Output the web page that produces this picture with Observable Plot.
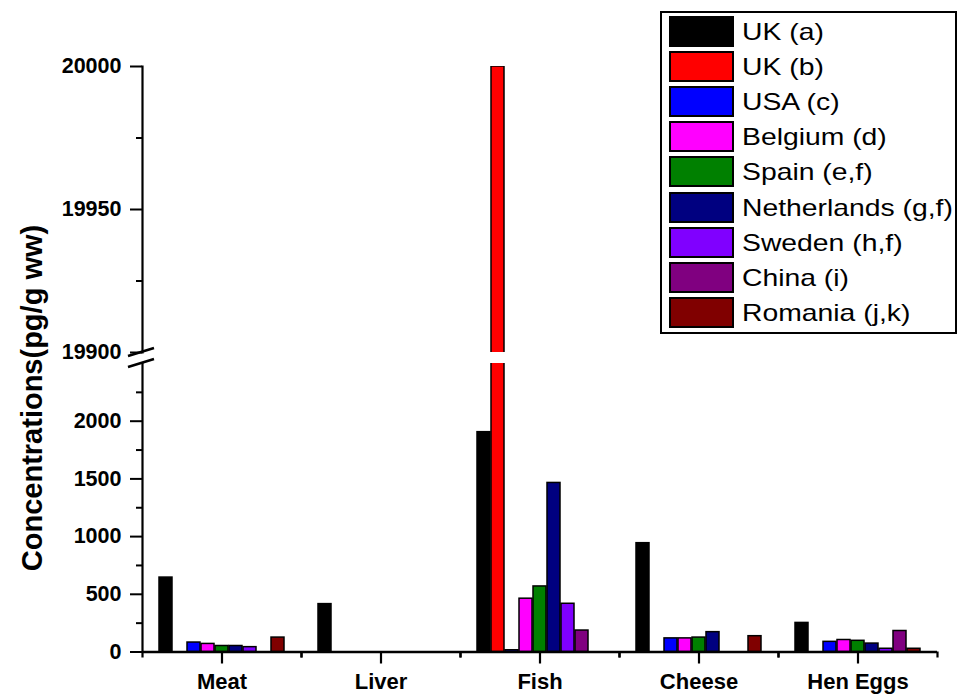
<!DOCTYPE html>
<html><head><meta charset="utf-8">
<script src="https://cdn.jsdelivr.net/npm/d3@7"></script>
<script src="https://cdn.jsdelivr.net/npm/@observablehq/plot@0.6"></script>
<style>
*{box-sizing:border-box;}
body{margin:0;background:#fff;font-family:"Liberation Sans",Arial,sans-serif;}
#chart{position:relative;width:961px;height:694px;background:#fff;overflow:hidden;}
#upper,#lower{position:absolute;left:0;}
#upper{top:0;} #lower{top:358px;}
#ylabel{position:absolute;left:32px;top:398px;transform:translate(-50%,-50%) rotate(-90deg);font-size:29px;font-weight:bold;white-space:nowrap;color:#000;}
#legend{position:absolute;left:660px;top:11px;width:297px;height:323px;border:2px solid #000;background:#fff;}
.sw{position:absolute;left:7px;width:65px;height:31px;border:2px solid #000;}
.lt{position:absolute;left:80px;height:31px;line-height:31px;font-size:24px;transform:scaleX(1.18);transform-origin:0 50%;white-space:nowrap;color:#000;}
</style>
</head><body>
<div id="chart">
  <div id="upper"></div>
  <div id="lower"></div>
  <div id="ylabel">Concentrations(pg/g ww)</div>
  <div id="legend"></div>
</div>
<script>
// ---- data ----
const categories = ["Meat", "Liver", "Fish", "Cheese", "Hen Eggs"];
const series = ["UK (a)", "UK (b)", "USA (c)", "Belgium (d)", "Spain (e,f)", "Netherlands (g,f)", "Sweden (h,f)", "China (i)", "Romania (j,k)"];
const colors = ["#000000", "#FF0000", "#0000FF", "#FF00FF", "#008000", "#000080", "#8000FF", "#800080", "#800000"];
// values per category (Meat, Liver, Fish, Cheese, Hen Eggs)
const ukA         = [645, 415, 1905, 943, 252];
const ukB         = [null, null, 20000, null, null];
const usa         = [82, null, 15, 118, 88];
const belgium     = [70, null, 462, 118, 104];
const spain       = [52, null, 568, 125, 97];
const netherlands = [52, null, 1465, 172, 73];
const sweden      = [42, null, 418, null, 28];
const china       = [null, null, 186, null, 182];
const romania     = [125, null, null, 137, 28];
const upperTicks = [19900, 19950, 20000];
const upperMinor = [19925, 19975];
const lowerTicks = [0, 500, 1000, 1500, 2000];
const lowerMinor = [250, 750, 1250, 1750, 2250];

const seriesValues = [ukA, ukB, usa, belgium, spain, netherlands, sweden, china, romania];
const rows = series.flatMap((s, si) => categories.map((c, ci) => ({category: c, series: s, value: seriesValues[si][ci]})))
  .filter(d => d.value != null);

const FONT = '"Liberation Sans", Arial, sans-serif';
const fmt = d3.format("d");
const common = {
  width: 961,
  marginLeft: 142,
  marginRight: 24,
  style: {background: "transparent", overflow: "visible", fontFamily: FONT, color: "#000"},
  fx: {domain: categories, padding: 0, axis: null},
  x: {domain: series, paddingInner: 0.05, paddingOuter: 1.2, axis: null},
  color: {domain: series, range: colors}
};
const bars = () => Plot.barY(rows, {fx: "category", x: "series", y: "value", fill: "series", stroke: "#000", strokeWidth: 1.5, clip: true});

const upper = Plot.plot({
  ...common,
  height: 358, marginTop: 66, marginBottom: 6,
  y: {domain: [19900, 20000], axis: null},
  marks: [
    bars(),
    Plot.axisY({ticks: upperTicks, tickFormat: fmt, tickSize: 12, tickPadding: 9, strokeWidth: 2, fontSize: 21.5, fontWeight: "bold", label: null}),
    Plot.axisY({ticks: upperMinor, tickSize: 6, strokeWidth: 2, tickFormat: () => "", label: null}),
    Plot.frame({anchor: "left", facetAnchor: "left", strokeWidth: 2.2})
  ]
});
document.getElementById("upper").appendChild(upper);

const lower = Plot.plot({
  ...common,
  height: 336, marginTop: 5, marginBottom: 42.5,
  y: {domain: [0, 2500], axis: null},
  marks: [
    bars(),
    Plot.axisY({ticks: lowerTicks, tickFormat: fmt, tickSize: 12, tickPadding: 9, strokeWidth: 2, fontSize: 21.5, fontWeight: "bold", label: null}),
    Plot.axisY({ticks: lowerMinor, tickSize: 6, strokeWidth: 2, tickFormat: () => "", label: null}),
    Plot.frame({anchor: "left", facetAnchor: "left", strokeWidth: 2.2}),
    Plot.ruleY([0], {strokeWidth: 2.6}),
    Plot.axisFx({anchor: "bottom", tickSize: 12, tickPadding: 9, strokeWidth: 2.2, fontSize: 22, fontWeight: "bold", label: null}),
    Plot.axisFx({anchor: "bottom", tickSize: 6, strokeWidth: 2.2, dx: -79.5, tickFormat: () => "", label: null}),
    Plot.axisFx({anchor: "bottom", tickSize: 6, strokeWidth: 2.2, dx: 79.5, tickFormat: () => "", label: null})
  ]
});
document.getElementById("lower").appendChild(lower);

// axis-break marks at the junction of the two panels
const y0 = upper.scale("y").apply(19900);
const xAxis = 142;
const g = d3.select(upper).append("g").attr("stroke", "#000").attr("stroke-width", 2.4);
[[4, -4], [15, 7]].forEach(([a, b]) => {
  g.append("line").attr("x1", xAxis - 14).attr("y1", y0 + a).attr("x2", xAxis + 12).attr("y2", y0 + b);
});

// legend
const legend = document.getElementById("legend");
series.forEach((s, i) => {
  const top = 3 + i * 35.1;
  const sw = document.createElement("div");
  sw.className = "sw"; sw.style.top = top + "px"; sw.style.background = colors[i];
  const t = document.createElement("div");
  t.className = "lt"; t.style.top = top + "px"; t.textContent = s;
  legend.appendChild(sw); legend.appendChild(t);
});
</script>
</body></html>
